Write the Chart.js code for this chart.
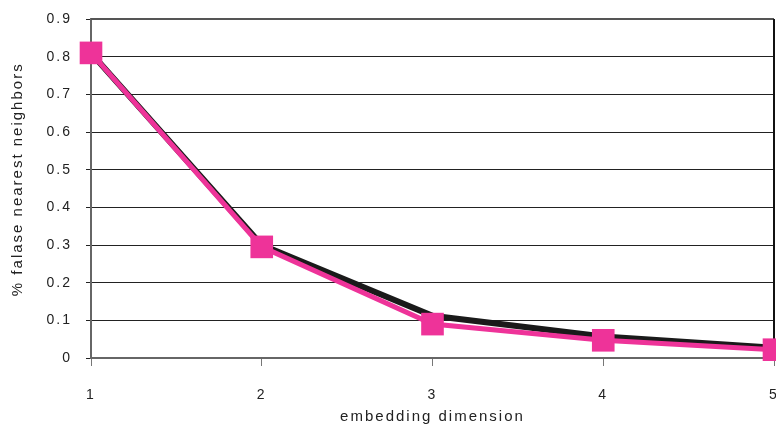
<!DOCTYPE html>
<html>
<head>
<meta charset="utf-8">
<script src="https://cdn.jsdelivr.net/npm/chart.js@4/dist/chart.umd.min.js"></script>
<style>
  html, body { margin: 0; padding: 0; background: #fff; }
  #wrap { width: 776px; height: 430px; }
</style>
</head>
<body>
<div id="wrap"><canvas id="fnn"></canvas></div>
<script>
// embedding dimension vs % false nearest neighbours
const dims = ['1', '2', '3', '4', '5'];
const blackSeries = [0.81, 0.30, 0.112, 0.057, 0.027];
const pinkSeries = [0.81, 0.295, 0.09, 0.047, 0.022];
const yTicks = [0, 0.1, 0.2, 0.3, 0.4, 0.5, 0.6, 0.7, 0.8, 0.9];

// the original text is spaced out a bit, canvas can do that
const spacing = {
  id: 'spacing',
  beforeLayout(chart) { chart.ctx.letterSpacing = '2px'; },
  beforeDraw(chart) { chart.ctx.letterSpacing = '2px'; },
};

// frame on top + right of plot area
const plotFrame = {
  id: 'plotFrame',
  beforeDatasetsDraw(chart) {
    const { ctx, chartArea: a } = chart;
    ctx.save();
    ctx.lineWidth = 2;
    ctx.strokeStyle = '#555';
    ctx.beginPath();
    ctx.moveTo(a.left, a.top);
    ctx.lineTo(a.right, a.top);
    ctx.stroke();
    ctx.strokeStyle = '#111';
    ctx.beginPath();
    ctx.moveTo(a.right, a.top);
    ctx.lineTo(a.right, a.bottom);
    ctx.stroke();
    ctx.restore();
  }
};

const tickFont = { family: 'Liberation Sans, Arial, sans-serif', size: 14 };

new Chart(document.getElementById('fnn'), {
  type: 'line',
  data: {
    labels: dims,
    datasets: [
      {
        data: blackSeries,
        borderColor: '#1a1a1a',
        borderWidth: 6,
        pointRadius: 0,
        tension: 0,
        clip: false,
        order: 1,
      },
      {
        data: pinkSeries,
        borderColor: '#ee3399',
        backgroundColor: '#ee3399',
        borderWidth: 5,
        pointStyle: 'rect',
        pointRadius: 16,
        pointBorderWidth: 0,
        pointHoverRadius: 16,
        tension: 0,
        clip: false,
        order: 0,
      },
    ],
  },
  options: {
    responsive: true,
    maintainAspectRatio: false,
    animation: false,
    layout: { autoPadding: false, padding: { top: 19, right: 2, left: 0, bottom: 0 } },
    plugins: {
      legend: { display: false },
      tooltip: { enabled: false },
    },
    scales: {
      x: {
        offset: false,
        grid: { drawOnChartArea: false, drawTicks: true, tickLength: 8, color: '#777', lineWidth: 1 },
        border: { color: '#666', width: 2 },
        ticks: { color: '#222', font: tickFont, padding: 21, maxRotation: 0 },
        title: {
          display: true,
          text: 'embedding dimension',
          color: '#222',
          font: { family: 'Liberation Sans, Arial, sans-serif', size: 15 },
          padding: { top: 2, bottom: 4 },
        },
        afterFit(scale) {
          scale.height = 72;
          scale.paddingLeft = 0;
          scale.paddingRight = 0;
        },
      },
      y: {
        min: 0,
        max: 0.9,
        afterBuildTicks(scale) { scale.ticks = yTicks.map(v => ({ value: v })); },
        grid: { color: '#222', lineWidth: 1, tickLength: 5 },
        border: { color: '#666', width: 2 },
        ticks: {
          color: '#222',
          font: tickFont,
          padding: 14,
          callback: v => (v === 0 ? '0' : v.toFixed(1)),
        },
        title: {
          display: true,
          text: '   % falase nearest neighbors',
          color: '#222',
          font: { family: 'Liberation Sans, Arial, sans-serif', size: 15 },
          padding: { top: 9, bottom: 0 },
        },
        afterFit(scale) {
          scale.width = 91;
          scale.paddingTop = 0;
          scale.paddingBottom = 0;
        },
      },
    },
  },
  plugins: [spacing, plotFrame],
});
</script>
</body>
</html>
